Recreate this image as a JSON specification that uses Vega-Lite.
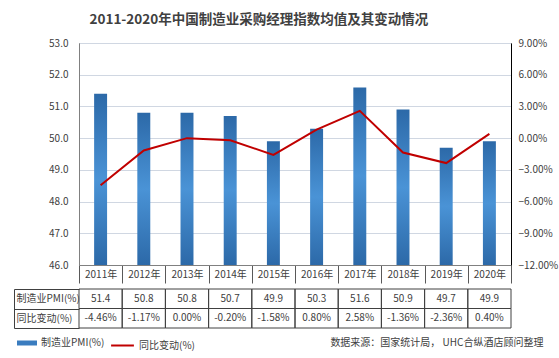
{
  "$schema": "https://vega.github.io/schema/vega-lite/v6.json",
  "padding": {"left": 13, "top": 13, "right": 0, "bottom": 0},
  "background": "white",
  "config": {
    "font": "Noto Sans CJK SC",
    "view": {"stroke": null},
    "axis": {"labelFont": "Noto Sans CJK SC", "labelFontSize": 10, "labelColor": "#404040"},
    "legend": {"labelFont": "Noto Sans CJK SC", "labelFontSize": 10, "labelColor": "#404040"}
  },
  "title": {
    "text": "2011-2020年中国制造业采购经理指数均值及其变动情况",
    "font": "Noto Sans CJK SC",
    "fontSize": 13.5,
    "fontWeight": "bold",
    "color": "#404040",
    "anchor": "middle",
    "offset": 11,
    "dx": -27
  },
  "datasets": {
    "d": [
      {"year": "2011年", "pmi": 51.4, "chg": -0.0446},
      {"year": "2012年", "pmi": 50.8, "chg": -0.0117},
      {"year": "2013年", "pmi": 50.8, "chg": 0.0},
      {"year": "2014年", "pmi": 50.7, "chg": -0.002},
      {"year": "2015年", "pmi": 49.9, "chg": -0.0158},
      {"year": "2016年", "pmi": 50.3, "chg": 0.008},
      {"year": "2017年", "pmi": 51.6, "chg": 0.0258},
      {"year": "2018年", "pmi": 50.9, "chg": -0.0136},
      {"year": "2019年", "pmi": 49.7, "chg": -0.0236},
      {"year": "2020年", "pmi": 49.9, "chg": 0.004}
    ],
    "t": [
      {"year": "2011年", "row": "制造业PMI(%)", "text": "51.4"},
      {"year": "2012年", "row": "制造业PMI(%)", "text": "50.8"},
      {"year": "2013年", "row": "制造业PMI(%)", "text": "50.8"},
      {"year": "2014年", "row": "制造业PMI(%)", "text": "50.7"},
      {"year": "2015年", "row": "制造业PMI(%)", "text": "49.9"},
      {"year": "2016年", "row": "制造业PMI(%)", "text": "50.3"},
      {"year": "2017年", "row": "制造业PMI(%)", "text": "51.6"},
      {"year": "2018年", "row": "制造业PMI(%)", "text": "50.9"},
      {"year": "2019年", "row": "制造业PMI(%)", "text": "49.7"},
      {"year": "2020年", "row": "制造业PMI(%)", "text": "49.9"},
      {"year": "2011年", "row": "同比变动(%)", "text": "-4.46%"},
      {"year": "2012年", "row": "同比变动(%)", "text": "-1.17%"},
      {"year": "2013年", "row": "同比变动(%)", "text": "0.00%"},
      {"year": "2014年", "row": "同比变动(%)", "text": "-0.20%"},
      {"year": "2015年", "row": "同比变动(%)", "text": "-1.58%"},
      {"year": "2016年", "row": "同比变动(%)", "text": "0.80%"},
      {"year": "2017年", "row": "同比变动(%)", "text": "2.58%"},
      {"year": "2018年", "row": "同比变动(%)", "text": "-1.36%"},
      {"year": "2019年", "row": "同比变动(%)", "text": "-2.36%"},
      {"year": "2020年", "row": "同比变动(%)", "text": "0.40%"}
    ]
  },
  "spacing": 0,
  "resolve": {"scale": {"fill": "shared", "stroke": "shared"}},
  "vconcat": [
    {
      "width": 432,
      "height": 222,
      "view": {"stroke": "#808080"},
      "data": {"name": "d"},
      "encoding": {
        "x": {
          "field": "year", "type": "nominal", "sort": null,
          "scale": {"paddingInner": 0, "paddingOuter": 0},
          "axis": {
            "title": null, "labelAngle": 0, "domainColor": "#808080",
            "tickBand": "extent", "tickSize": 18, "tickColor": "#595959",
            "labelPadding": -9, "labelBaseline": "middle"
          }
        }
      },
      "layer": [
        {
          "mark": {
            "type": "bar",
            "width": {"band": 0.3},
            "fill": {
              "gradient": "linear", "x1": 0, "y1": 0, "x2": 0, "y2": 1,
              "stops": [
                {"offset": 0, "color": "#2c69a8"},
                {"offset": 0.5, "color": "#4a93d6"},
                {"offset": 1, "color": "#2c69a8"}
              ]
            }
          },
          "encoding": {
            "y": {
              "field": "pmi", "type": "quantitative",
              "scale": {"domain": [46, 53], "zero": false, "nice": false},
              "axis": {
                "title": null, "values": [46, 47, 48, 49, 50, 51, 52, 53], "format": ".1f",
                "grid": true, "gridColor": "#d0d7e2", "ticks": false,
                "domainColor": "#808080", "labelPadding": 11
              }
            },
            "y2": {"datum": 46}
          }
        },
        {
          "mark": {"type": "line", "color": "#c00000", "strokeWidth": 2},
          "encoding": {
            "y": {
              "field": "chg", "type": "quantitative",
              "scale": {"domain": [-0.12, 0.09], "zero": false, "nice": false},
              "axis": {
                "orient": "right", "title": null,
                "values": [-0.12, -0.09, -0.06, -0.03, 0, 0.03, 0.06, 0.09], "format": ".2%",
                "grid": false, "ticks": false, "domainColor": "#000000", "labelPadding": 7
              }
            }
          }
        }
      ],
      "resolve": {"scale": {"y": "independent"}}
    },
    {
      "width": 432,
      "height": 39,
      "title": {
        "text": "数据来源：国家统计局， UHC合纵酒店顾问整理",
        "orient": "bottom", "anchor": "end", "fontSize": 10, "fontWeight": "normal",
        "color": "#404040", "offset": 9, "dx": 32
      },
      "layer": [
        {
          "data": {"name": "t"},
          "mark": {"type": "rect", "fillOpacity": 0, "stroke": "#404040", "strokeWidth": 1},
          "encoding": {
            "x": {"field": "year", "type": "nominal", "sort": null, "scale": {"paddingInner": 0, "paddingOuter": 0}, "axis": null},
            "y": {
              "field": "row", "type": "nominal", "sort": ["制造业PMI(%)", "同比变动(%)"],
              "scale": {"paddingInner": 0, "paddingOuter": 0},
              "axis": {
                "title": null, "orient": "left", "offset": 65, "domain": true, "domainColor": "#404040",
                "ticks": true, "tickSize": -65, "tickBand": "extent", "tickColor": "#404040",
                "labelAlign": "left", "labelPadding": 63, "grid": false
              }
            }
          }
        },
        {
          "data": {"name": "t"},
          "mark": {"type": "text", "fontSize": 10, "color": "#404040"},
          "encoding": {
            "x": {"field": "year", "type": "nominal", "sort": null},
            "y": {"field": "row", "type": "nominal", "sort": ["制造业PMI(%)", "同比变动(%)"]},
            "text": {"field": "text"}
          }
        },
        {
          "data": {"values": [{"a": "制造业PMI(%)", "b": "同比变动(%)"}]},
          "mark": {"type": "point", "opacity": 0},
          "encoding": {
            "fill": {
              "field": "a", "type": "nominal", "scale": {"range": ["#3a7cbf"]},
              "legend": {
                "title": null, "orient": "none", "legendX": -62, "legendY": 290,
                "symbolType": "M-1,-0.25H1V0.25H-1Z", "symbolSize": 400,
                "symbolOpacity": 1, "symbolStrokeWidth": 0
              }
            },
            "stroke": {
              "field": "b", "type": "nominal", "scale": {"range": ["#c00000"]},
              "legend": {
                "title": null, "orient": "none", "legendX": 31, "legendY": 290,
                "symbolType": "stroke", "symbolSize": 520, "symbolStrokeWidth": 2,
                "symbolOpacity": 1
              }
            }
          }
        }
      ]
    }
  ]
}
